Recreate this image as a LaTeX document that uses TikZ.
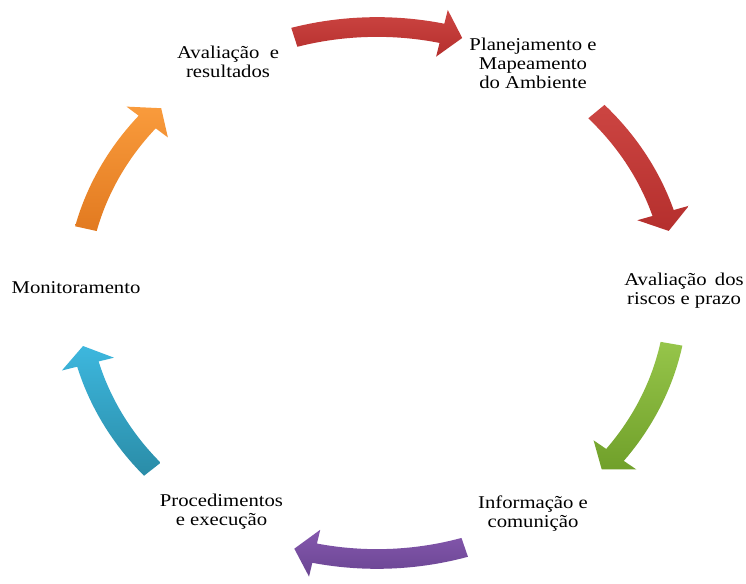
\documentclass[tikz,border=0pt]{standalone}
\usepackage{fontspec}
\setmainfont{Liberation Serif}
\definecolor{redA}{HTML}{CC4542}
\definecolor{redB}{HTML}{B52F2D}
\definecolor{greenA}{HTML}{96C54A}
\definecolor{greenB}{HTML}{70A02A}
\definecolor{purpleA}{HTML}{8558AE}
\definecolor{purpleB}{HTML}{6A4592}
\definecolor{tealA}{HTML}{3DB7DE}
\definecolor{tealB}{HTML}{2A8CA7}
\definecolor{orangeA}{HTML}{F99B3C}
\definecolor{orangeB}{HTML}{E27A20}
% curved block arrow on the unit ring: start angle, tip angle, fill options
\newcommand{\cyclearrow}[3]{%
  \pgfmathsetmacro{\headbase}{#2+4}%
  \path[#3] (#1:1.037)
    -- plot[domain=#1:\headbase, samples=24, variable=\t] ({1.037*cos(\t)},{1.037*sin(\t)})
    -- (\headbase:1.09) -- (#2:1) -- (\headbase:0.91)
    -- plot[domain=\headbase:#1, samples=24, variable=\t] ({0.963*cos(\t)},{0.963*sin(\t)})
    -- cycle;
}
\begin{document}
\begin{tikzpicture}[x=1pt,y=1pt,
  lbl/.style={font=\fontsize{18}{19}\selectfont, align=center, inner sep=0pt, xscale=1.15, text=black}]
\fill[white] (0,0) rectangle (746,583);
\useasboundingbox (0,0) rectangle (746,583);

% ring of arrows
\begin{scope}[shift={(377,290)}, x=300pt, y=266pt]
  \cyclearrow{106}{73.5}{top color=redA, bottom color=redB}
  \cyclearrow{43}{13.5}{top color=redA, bottom color=redB}
  \cyclearrow{-11}{-41.5}{top color=greenA, bottom color=greenB}
  \cyclearrow{-73}{-106}{top color=purpleA, bottom color=purpleB}
  \cyclearrow{-138.5}{-168.5}{top color=tealA, bottom color=tealB}
  \cyclearrow{166}{136}{top color=orangeA, bottom color=orangeB}
\end{scope}

% stage labels
\node[lbl] (aval)  at (228,521)   {Avaliação\ \ e\\resultados};
\node[lbl] (plan)  at (533,520)   {Planejamento e\\Mapeamento\\do Ambiente};
\node[lbl] (risco) at (684,292)   {Avaliação\hspace{0.4em}dos\\riscos e prazo};
\node[lbl] (info)  at (533,69)    {Informação e\\comunição};
\node[lbl] (proc)  at (221.5,71)  {Procedimentos\\e execução};
\node[lbl] (mon)   at (76,295)    {Monitoramento};
\end{tikzpicture}
\end{document}
